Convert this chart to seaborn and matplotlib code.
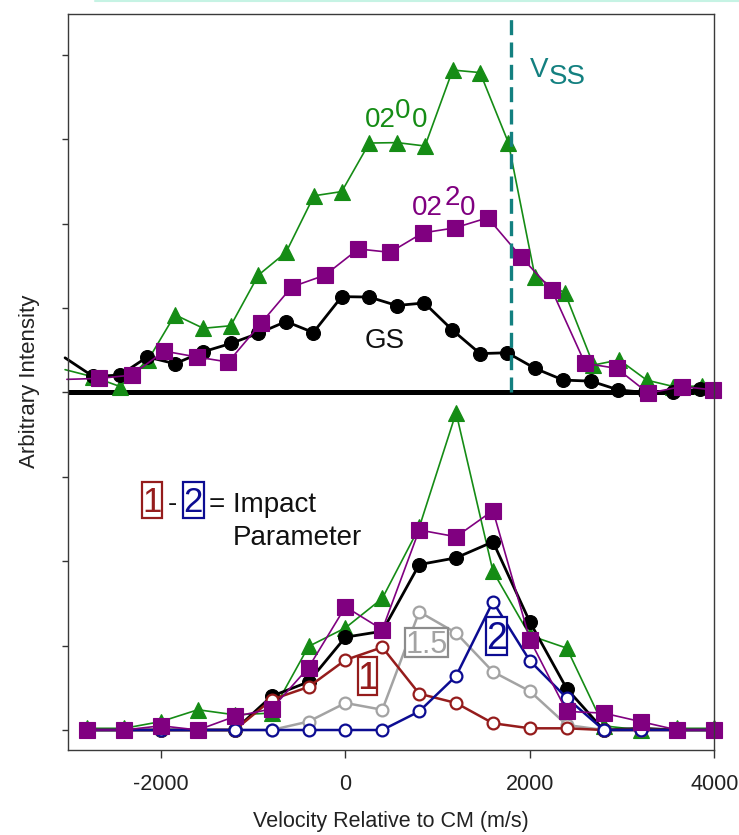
import matplotlib
matplotlib.use("Agg")
import matplotlib.pyplot as plt
import seaborn as sns
import pandas as pd
from matplotlib.lines import Line2D
from matplotlib.patches import Rectangle

# ---------------- data ----------------
# upper panel (values relative to its own baseline)
top_x_gs = [-3040, -2737, -2444, -2148, -1848, -1547, -1244, -944, -644, -348, -40, 259,
            556, 856, 1159, 1460, 1756, 2056, 2363, 2663, 2959, 3249, 3556, 3849]
top_gs = [0.41, 0.19, 0.205, 0.42, 0.34, 0.48, 0.58, 0.70, 0.84, 0.71, 1.135, 1.13,
          1.03, 1.06, 0.74, 0.46, 0.47, 0.285, 0.146, 0.134, 0.03, 0.0, 0.0, 0.04]

top_x_0200 = [-3040, -2737, -2444, -2137, -1848, -1541, -1244, -944, -644, -341, -40, 259,
              562, 863, 1163, 1460, 1767, 2056, 2380, 2690, 2970, 3267, 3556, 3864]
top_0200 = [0.27, 0.185, 0.07, 0.39, 0.92, 0.76, 0.79, 1.39, 1.66, 2.33, 2.38, 2.955,
            2.96, 2.92, 3.82, 3.79, 2.96, 1.37, 1.18, 0.325, 0.385, 0.146, 0.07, 0.075]

top_x_0220 = [-3020, -2669, -2317, -1967, -1612, -1270, -915, -582, -221, 140, 484,
              838, 1188, 1543, 1901, 2237, 2598, 2942, 3285, 3647, 3989]
top_0220 = [0.155, 0.166, 0.205, 0.49, 0.42, 0.36, 0.82, 1.25, 1.39, 1.70, 1.66,
            1.89, 1.95, 2.07, 1.61, 1.215, 0.345, 0.285, -0.01, 0.07, 0.03]

# lower panel
bot_x = [-2800, -2400, -2000, -1600, -1200, -800, -400, 0, 400, 800, 1200, 1600,
         2000, 2400, 2800, 3200, 3600, 4000]
bot_0200 = [0.02, 0.02, 0.10, 0.24, 0.18, 0.20, 0.99, 1.21, 1.56, 2.40, 3.76, 1.88,
            1.12, 0.97, 0.05, 0.0, 0.02, 0.02]
bot_0220 = [0.0, 0.0, 0.05, 0.0, 0.16, 0.25, 0.74, 1.46, 1.19, 2.37, 2.29, 2.60,
            1.07, 0.22, 0.20, 0.10, 0.0, 0.0]
bot_gs = [0.0, 0.0, 0.0, 0.0, 0.0, 0.40, 0.57, 1.10, 1.17, 1.96, 2.04, 2.23,
          1.28, 0.49, 0.0, 0.02, 0.0, 0.0]
bot_b1 = [0.0, 0.0, 0.0, 0.0, 0.0, 0.36, 0.51, 0.83, 0.98, 0.43, 0.32, 0.08,
          0.02, 0.02, 0.0, 0.0, 0.0, 0.0]
bot_b15 = [0.0, 0.0, 0.0, 0.0, 0.0, 0.0, 0.10, 0.32, 0.24, 1.40, 1.15, 0.69,
           0.46, 0.06, 0.0, 0.0, 0.0, 0.0]
bot_b2 = [0.0, 0.0, 0.0, 0.0, 0.0, 0.0, 0.0, 0.0, 0.0, 0.22, 0.64, 1.52,
          0.82, 0.38, 0.0, 0.0, 0.0, 0.0]

x_ticks = [-2000, 0, 2000, 4000]
v_ss = 1800

# ---------------- style ----------------
GREEN = "#158c15"
PURPLE = "#800080"
BLACK = "#000000"
RED = "#951c1c"
GRAY = "#a3a3a3"
BLUE = "#0c0c92"
TEAL = "#138080"
TOP_BASE = 4.0

sns.set_theme(style="ticks")
plt.rcParams["font.family"] = ["Liberation Sans", "DejaVu Sans"]
NARROW = ["Liberation Sans Narrow", "Liberation Sans", "DejaVu Sans"]

fig = plt.figure(figsize=(7.39, 8.35), dpi=100)
ax = fig.add_axes([68.3 / 739, 1 - 750 / 835, (714.3 - 68.3) / 739, (750 - 13.5) / 835])


def series(x, y, color, marker, ms, lw, offset=0.0, open_marker=False, skip_first=False, z=2):
    df = pd.DataFrame({"x": x, "y": [v + offset for v in y]})
    kw = dict(markevery=slice(1, None)) if skip_first else {}
    sns.lineplot(data=df, x="x", y="y", ax=ax, color=color, marker=marker,
                 markersize=ms, linewidth=lw, estimator=None, sort=False,
                 markeredgecolor=color,
                 markerfacecolor="white" if open_marker else color,
                 markeredgewidth=1.6 if open_marker else 0.8, zorder=z,
                 clip_on=False, **kw)


# upper panel
ax.axhline(TOP_BASE, color="black", lw=3.6, zorder=1.5)
series(top_x_0200, top_0200, GREEN, "^", 11.5, 1.2, TOP_BASE, skip_first=True, z=2)
series(top_x_gs, top_gs, BLACK, "o", 10, 2.0, TOP_BASE, skip_first=True, z=2.2)
series(top_x_0220, top_0220, PURPLE, "s", 11, 1.2, TOP_BASE, skip_first=True, z=2.4)

# lower panel
series(bot_x, bot_0200, GREEN, "^", 11.5, 1.2, z=2)
series(bot_x, bot_gs, BLACK, "o", 10, 2.0, z=2.1)
series(bot_x, bot_b15, GRAY, "o", 8.5, 1.8, open_marker=True, z=2.2)
series(bot_x, bot_b1, RED, "o", 8.5, 1.8, open_marker=True, z=2.3)
series(bot_x, bot_b2, BLUE, "o", 8.5, 1.8, open_marker=True, z=2.4)
series(bot_x, bot_0220, PURPLE, "s", 11, 1.2, z=2.5)

ax.set_xlim(-3005, 4000)
ax.set_ylim(-0.237, 8.49)

# V_ss dashed line
ax.plot([v_ss, v_ss], [TOP_BASE, 8.49], color=TEAL, lw=2.4, dashes=(4.5, 2.2), zorder=5,
        solid_capstyle="butt", dash_capstyle="butt")

# axes styling
ax.set_xticks(x_ticks)
ax.set_xticklabels([str(t) for t in x_ticks], fontsize=15.5, color="#222222")
ax.set_yticks(range(9))
ax.set_yticklabels([])
ax.tick_params(axis="x", direction="out", length=6, width=1, color="#333333", pad=11)
ax.tick_params(axis="y", direction="out", length=4, width=1, color="#333333")
for s in ax.spines.values():
    s.set_visible(True)
    s.set_color("#3a3a3a")
    s.set_linewidth(1.0)

ax.set_xlabel("Velocity Relative to CM (m/s)", fontsize=15.5, color="#222222")
ax.set_ylabel("Arbitrary Intensity", fontsize=16, color="#222222")
ax.xaxis.set_label_coords(0.5, -0.0835)
ax.yaxis.set_label_coords(-0.044, 0.5)

# ---------------- labels ----------------
FS = 20
txt = dict(fontsize=FS, ha="left", va="baseline", zorder=6)
ax.text(212, 7.15, "02", color=GREEN, **txt)
ax.text(538, 7.25, "0", color=GREEN, **txt)
ax.text(719, 7.15, "0", color=GREEN, **txt)

ax.text(719, 6.10, "02", color=PURPLE, **txt)
ax.text(1080, 6.22, "2", color=PURPLE, **txt)
ax.text(1243, 6.10, "0", color=PURPLE, **txt)

ax.text(212, 4.53, "GS", color="#111111", **txt)

ax.text(2002, 7.74, "V", color=TEAL, **txt)
ax.text(2200, 7.66, "SS", color=TEAL, **txt)

ax.text(-1924, 2.60, "-", color="#111111", **txt)
ax.text(-1474, 2.583, "= Impact", color="#111111", **txt)
ax.text(-1219, 2.19, "Parameter", color="#111111", **txt)


def boxed(xc, yc, w, h, s, tcolor, ecolor, fs):
    ax.add_patch(Rectangle((xc - w / 2, yc - h / 2), w, h, facecolor="white",
                           edgecolor=ecolor, lw=1.6, zorder=6))
    ax.annotate(s, (xc, yc), xytext=(0, -0.358 * fs), textcoords="offset points",
                ha="center", va="baseline", color=tcolor, fontsize=fs,
                family=NARROW, zorder=7)


boxed(-2097, 2.729, 223, 0.427, "1", RED, RED, 25)
boxed(-1649, 2.729, 231, 0.427, "2", BLUE, BLUE, 25)
boxed(243, 0.641, 206, 0.454, "1", RED, RED, 27)
boxed(882, 1.040, 470, 0.344, "1.5", GRAY, "#8c8c8c", 22)
boxed(1636, 1.116, 224, 0.454, "2", BLUE, BLUE, 27)

# thin mint rule at the very top of the slide
fig.add_artist(Line2D([95 / 739, 1.0], [1 - 1 / 835, 1 - 1 / 835], color="#c6f3e4",
                      lw=1.5, transform=fig.transFigure))

fig.savefig("out.png", dpi=100)
